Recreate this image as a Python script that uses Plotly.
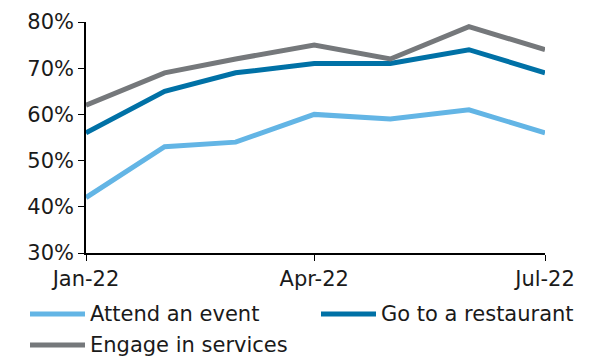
import plotly.graph_objects as go

months = ["2022-01-01", "2022-02-01", "2022-03-01", "2022-04-01",
          "2022-05-01", "2022-06-01", "2022-07-01"]
attend_event = [42, 53, 54, 60, 59, 61, 56]
go_restaurant = [56, 65, 69, 71, 71, 74, 69]
engage_services = [62, 69, 72, 75, 72, 79, 74]

tick_vals = ["2022-01-01", "2022-04-01", "2022-07-01"]
tick_text = ["Jan-22", "Apr-22", "Jul-22"]

series = [
    ("Attend an event", attend_event, "#63B5E5"),
    ("Go to a restaurant", go_restaurant, "#0071A6"),
    ("Engage in services", engage_services, "#75787B"),
]

W, H = 592, 356
ML, MR, MT, MB = 86, 47, 22, 103
PW, PH = W - ML - MR, H - MT - MB


def px_x(px):
    return (px - ML) / PW


def px_y(py):
    return (H - MB - py) / PH


fig = go.Figure()
for name, vals, color in series:
    fig.add_trace(go.Scatter(
        x=months, y=[v / 100 for v in vals], name=name, mode="lines",
        line=dict(color=color, width=5), showlegend=False,
    ))

# Legend drawn as two columns below the plot: line swatch + label
legend_slots = [(30, 314), (321, 314), (30, 345)]
for (name, _, color), (lx, ly) in zip(series, legend_slots):
    fig.add_shape(type="line", xref="paper", yref="paper",
                  x0=px_x(lx), x1=px_x(lx + 55), y0=px_y(ly), y1=px_y(ly),
                  line=dict(color=color, width=5))
    fig.add_annotation(text=name, xref="paper", yref="paper",
                       x=px_x(lx + 58), y=px_y(ly), xanchor="left", yanchor="middle",
                       showarrow=False, font=dict(size=21, color="#1a1a1a"))

font = dict(family="DejaVu Sans, Verdana, sans-serif", size=21, color="#1a1a1a")

fig.update_layout(
    width=W, height=H,
    margin=dict(l=ML, r=MR, t=MT, b=MB, autoexpand=False),
    paper_bgcolor="white", plot_bgcolor="white",
    font=font,
    showlegend=False,
    xaxis=dict(
        range=["2022-01-01", "2022-07-01"], tickvals=tick_vals, ticktext=tick_text,
        showgrid=False, showline=True, linecolor="black", linewidth=1.5,
        ticks="outside", ticklen=6, tickcolor="black", zeroline=False,
        tickfont=dict(size=21),
    ),
    yaxis=dict(
        range=[0.30, 0.80], dtick=0.1, tickformat=".0%",
        showgrid=False, showline=True, linecolor="black", linewidth=1.5,
        ticks="outside", ticklen=6, tickcolor="black", zeroline=False,
        tickfont=dict(size=21),
    ),
)

fig.write_html("out.html")
